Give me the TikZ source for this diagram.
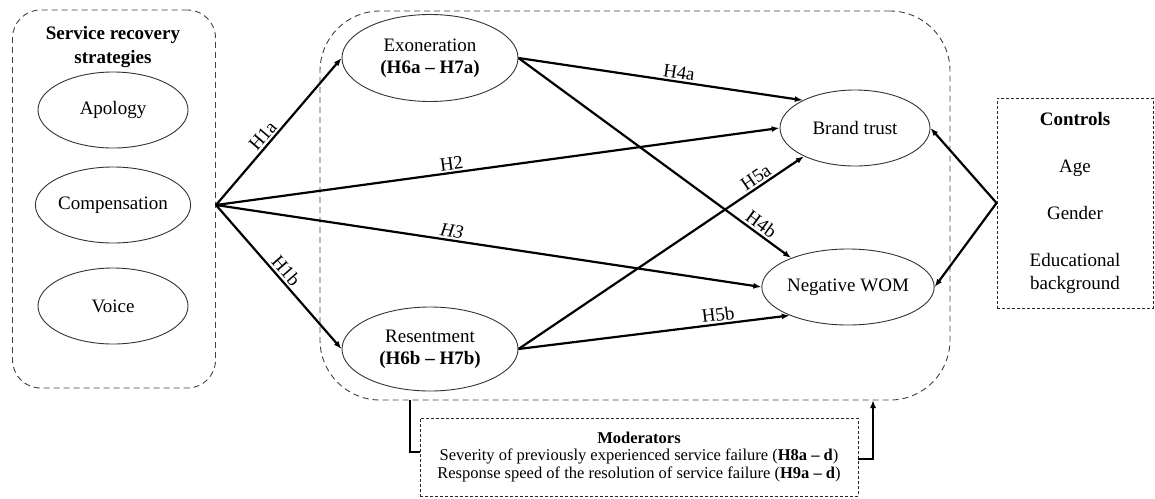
\documentclass[tikz,border=0pt]{standalone}
\usepackage{fontspec}
\setmainfont{Liberation Serif}
\usetikzlibrary{arrows.meta,positioning,shapes.geometric}
\tikzset{
  constructnode/.style={draw=black!80,ellipse,line width=0.9pt,inner sep=0pt,
    minimum width=150pt,minimum height=76pt,align=center,font=\fontsize{19}{22}\selectfont},
  groupbox/.style={draw=black!75,dash pattern=on 6pt off 4pt,line width=0.9pt,rounded corners=#1},
  groupbox/.default=28pt,
  notebox/.style={draw=black!85,dash pattern=on 3pt off 2pt,line width=0.9pt,align=center},
  patharrow/.style={-{Latex[length=8pt,width=6pt]},line width=2.2pt},
  pathlabel/.style={font=\fontsize{19}{22}\selectfont,sloped,above,inner sep=2pt}
}

\begin{document}
\begin{tikzpicture}[x=1pt,y=-1pt]
  \useasboundingbox (0,0) rectangle (1155,498);
  % recovery strategies
  \node[groupbox=28pt,minimum width=203pt,minimum height=378pt] (strategybox) at (114,199) {};
  \node[font=\bfseries\fontsize{19}{24}\selectfont,align=center] (strategytitle) at (113,47)
    {Service recovery\\strategies};
  \node[constructnode] (apology) at (113,110) {Apology};
  \node[constructnode] (compensation) at (113,205) {Compensation};
  \node[constructnode] (voice) at (113,306) {Voice};
  % mediators and outcomes
  \node[groupbox=60pt,minimum width=630pt,minimum height=389pt] (mediatorbox) at (635,205.5) {};
  \node[constructnode,minimum width=176pt,minimum height=87pt] (exoneration) at (430,58)
    {Exoneration\\\textbf{(H6a – H7a)}};
  \node[constructnode,minimum width=176pt,minimum height=84pt] (resentment) at (430,349)
    {Resentment\\\textbf{(H6b – H7b)}};
  \node[constructnode] (trust) at (855,128) {Brand trust};
  \node[constructnode] (nwom) at (848,287) {Negative WOM};
  % controls and moderators
  \node[notebox,minimum width=156pt,minimum height=210pt,font=\fontsize{19}{23}\selectfont]
    (controls) at (1075,203) {\textbf{Controls}\\[24pt]Age\\[24pt]Gender\\[24pt]Educational\\background};
  \node[notebox,minimum width=438pt,minimum height=78pt,font=\fontsize{16.5}{17.5}\selectfont]
    (moderators) at (639,457) {\textbf{Moderators}\\
    Severity of previously experienced service failure (\textbf{H8a – d})\\
    Response speed of the resolution of service failure (\textbf{H9a – d})};
  \coordinate (fan) at (216,205);
  \coordinate (modleft) at (410,400);
  \coordinate (modright) at (873,400);
  % hypotheses
  \draw[patharrow] (fan) -- node[pathlabel,pos=.43] {H1a} (exoneration.west);
  \draw[patharrow] (fan) -- node[pathlabel,pos=.5] {H1b} (resentment.west);
  \draw[patharrow] (fan) -- node[pathlabel,pos=.42] {H2} (trust.west);
  \draw[patharrow] (fan) -- node[pathlabel,pos=.43] {\textit{H3}} (nwom.west);
  \draw[patharrow] (exoneration.east) -- node[pathlabel,pos=.56] {H4a} (trust.152);
  \draw[patharrow] (exoneration.east) -- node[pathlabel,pos=.87] {H4b} (nwom.153);
  \draw[patharrow] (resentment.east) -- node[pathlabel,pos=.85] {H5a} (trust.209);
  \draw[patharrow] (resentment.east) -- node[pathlabel,pos=.74] {H5b} (nwom.206);
  \draw[patharrow] (controls.west) -- (trust.east);
  \draw[patharrow] (controls.west) -- (nwom.east);
  \draw[line width=2.2pt] (modleft) |- ([yshift=5pt]moderators.west);
  \draw[patharrow] ([yshift=-2pt]moderators.east) -| (modright);
\end{tikzpicture}
\end{document}
